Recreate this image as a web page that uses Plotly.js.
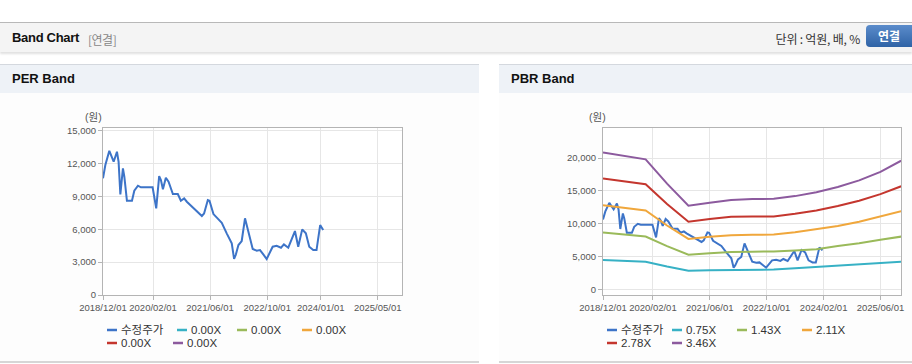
<!DOCTYPE html>
<html>
<head>
<meta charset="utf-8">
<script src="https://cdn.plot.ly/plotly-3.0.1.min.js"></script>
<style>
  html, body { margin: 0; padding: 0; background: #ffffff; width: 912px; height: 364px; overflow: hidden; font-family: "Liberation Sans", "Noto Sans CJK KR", sans-serif; }
  #topbar { position: absolute; left: 0; top: 22px; width: 912px; height: 29px; background: #f4f4f4; border-top: 1px solid #b8b8b8; box-shadow: 0 2px 2px rgba(0,0,0,0.12); }
  #topbar .title { position: absolute; left: 12px; top: 7px; font-size: 13px; font-weight: bold; color: #111; letter-spacing: -0.3px; }
  #topbar .sub { position: absolute; left: 88px; top: 8px; font-size: 12px; color: #888; font-family: "Noto Sans CJK KR", sans-serif; letter-spacing: -0.5px; }
  #topbar .unit { position: absolute; right: 52px; top: 7px; font-size: 12px; color: #333; font-family: "Noto Sans CJK KR", sans-serif; letter-spacing: -0.2px; }
  #topbar .btn { position: absolute; left: 866px; top: 2px; width: 52px; height: 22px; border-radius: 4px; background: linear-gradient(#5b8ccb, #2f63a6); color: #fff; font-size: 12px; font-weight: bold; line-height: 22px; text-indent: 12px; font-family: "Noto Sans CJK KR", sans-serif; }
  .phead { position: absolute; top: 64px; height: 28px; background: #eef2f7; border-top: 1px solid #d4d8de; }
  .phead span { position: absolute; left: 12px; top: 6px; font-size: 13px; font-weight: bold; color: #111; }
  .pbody { position: absolute; top: 93px; height: 268px; background: #fdfdfd; border-bottom: 2px solid #d6d6d6; }
  .chart { position: absolute; top: 93px; height: 269px; }
</style>
</head>
<body>
<div id="topbar">
  <div class="title">Band Chart</div>
  <div class="sub">[연결]</div>
  <div class="unit">단위 : 억원, 배, %</div>
  <div class="btn">연결</div>
</div>
<div class="phead" style="left:0;width:479px;"><span>PER Band</span></div>
<div class="phead" style="left:499px;width:413px;"><span>PBR Band</span></div>
<div class="pbody" style="left:0;width:479px;"></div>
<div class="pbody" style="left:499px;width:413px;"></div>
<div id="per" class="chart" style="left:0;width:479px;"></div>
<div id="pbr" class="chart" style="left:499px;width:413px;"></div>
<script>
// ---- Data ----
const priceDates = ['2018-12-01','2018-12-21','2019-01-24','2019-03-02','2019-03-30','2019-04-13','2019-04-28','2019-05-20','2019-06-01','2019-06-23','2019-08-05','2019-08-25','2019-09-25','2019-10-20','2020-01-28','2020-02-14','2020-02-28','2020-03-24','2020-04-08','2020-04-25','2020-05-20','2020-06-12','2020-07-19','2020-08-30','2020-09-25','2020-10-23','2020-11-15','2021-03-23','2021-04-11','2021-05-13','2021-05-27','2021-06-30','2021-09-09','2021-10-21','2021-12-03','2021-12-23','2022-01-06','2022-01-29','2022-02-26','2022-03-26','2022-04-24','2022-05-31','2022-07-04','2022-08-01','2022-08-29','2022-09-27','2022-11-17','2022-12-21','2023-01-27','2023-02-21','2023-03-30','2023-04-28','2023-05-26','2023-06-23','2023-07-27','2023-08-27','2023-09-25','2023-10-29','2023-11-26','2023-12-27','2024-01-22'];
const priceValues = [10650,11870,13170,12170,13080,12170,9190,11560,10800,8610,8610,9520,9980,9830,9830,8820,7910,10860,10500,9650,10710,10340,9220,9220,8610,8820,8520,7210,7450,8670,8610,7390,6600,5630,4720,3290,3650,4560,4930,7000,5780,4200,4050,4100,3710,3290,4410,4500,4320,4620,4320,5020,5840,4410,5990,5630,4410,4100,4100,6390,5930];

const perBandNames = ['0.00X','0.00X','0.00X','0.00X','0.00X'];
const perBandDates = [];
const perBandValues = [[],[],[],[],[]];

const pbrBandNames = ['0.75X','1.43X','2.11X','2.78X','3.46X'];
const bandDates = ['2018-12-01','2019-12-01','2020-06-01','2020-12-01','2021-06-01','2021-12-01','2022-06-01','2022-12-01','2023-06-01','2023-12-01','2024-06-01','2024-12-01','2025-06-01','2025-11-25'];
const band075 = [4470,4200,3480,2840,2900,2950,2960,3000,3200,3400,3700,3860,4060,4210];
const band143 = [8640,8030,6580,5280,5500,5700,5740,5760,5900,6100,6600,7000,7550,8030];
const band211 = [12820,12000,9720,7680,8000,8250,8300,8350,8700,9150,9650,10300,11100,11900];
const band278 = [16900,16000,13000,10300,10700,11050,11080,11100,11500,12000,12700,13500,14500,15700];
const band346 = [20850,19800,16100,12750,13200,13600,13750,13800,14200,14800,15600,16600,17900,19600];
const pbrBandValues = [band075, band143, band211, band278, band346];

const perTickVals = ['2018-12-01','2020-02-01','2021-06-01','2022-10-01','2024-01-01','2025-05-01'];
const perTickText = ['2018/12/01','2020/02/01','2021/06/01','2022/10/01','2024/01/01','2025/05/01'];
const pbrTickVals = ['2018-12-01','2020-02-01','2021-06-01','2022-10-01','2024-02-01','2025-06-01'];
const pbrTickText = ['2018/12/01','2020/02/01','2021/06/01','2022/10/01','2024/02/01','2025/06/01'];
const xRange = ['2018-12-01','2025-11-24'];

// ---- Styles ----
const priceColor = '#3d74c8';
const bandColors = ['#37b1c5','#9aba5a','#f0a73c','#c4362e','#8c5a9e'];
const FONT = '"Liberation Sans", "Noto Sans CJK KR", sans-serif';

// legend slots in pixels (relative to each chart div): [left x, center y]
const perLegendSlots = [[107,237],[177,237],[237,237],[302,237],[107,250],[173,250]];
const pbrLegendSlots = [[108,237],[173,237],[238,237],[303,237],[108,250],[173,250]];

function buildLegend(layout, names, colors, slots, W, H) {
  const m = layout.margin;
  const pw = W - m.l - m.r, ph = H - m.t - m.b;
  const px = X => (X - m.l) / pw;
  const py = Y => (H - m.b - Y) / ph;
  names.forEach((n, i) => {
    const [sx, sy] = slots[i];
    layout.shapes.push({type: 'line', xref: 'paper', yref: 'paper',
      x0: px(sx), x1: px(sx + 10), y0: py(sy), y1: py(sy),
      line: {color: colors[i], width: 2.5}});
    layout.annotations.push({text: n, xref: 'paper', yref: 'paper', x: px(sx + 12), y: py(sy),
      xanchor: 'left', yanchor: 'middle', showarrow: false,
      font: {family: FONT, size: 11.5, color: '#333'}});
  });
}

function makeLayout(tv, tt, yr, ticks, margin, W, H, unitX) {
  return {
    width: W, height: H,
    margin: margin,
    paper_bgcolor: 'rgba(0,0,0,0)',
    plot_bgcolor: '#ffffff',
    showlegend: false,
    font: {family: FONT, size: 10, color: '#555'},
    xaxis: {
      type: 'date', range: xRange, tickvals: tv, ticktext: tt,
      showgrid: true, gridcolor: '#e6e6e6', gridwidth: 1,
      showline: true, linecolor: '#b4b4b4', linewidth: 1, mirror: true,
      ticks: 'outside', ticklen: 4, tickcolor: '#b4b4b4',
      tickfont: {family: FONT, size: 9.5, color: '#555'}, zeroline: false, fixedrange: true
    },
    yaxis: {
      range: yr, tickvals: ticks, tickformat: ',d',
      showgrid: true, gridcolor: '#e6e6e6', gridwidth: 1,
      showline: true, linecolor: '#b4b4b4', linewidth: 1, mirror: true,
      ticks: 'outside', ticklen: 4, tickcolor: '#b4b4b4',
      tickfont: {family: FONT, size: 9.5, color: '#555'}, zeroline: false, fixedrange: true
    },
    shapes: [],
    annotations: [{
      text: '(원)', xref: 'paper', yref: 'paper', x: unitX, y: 1.066, xanchor: 'center', yanchor: 'middle',
      showarrow: false, font: {family: FONT, size: 10.5, color: '#555'}
    }]
  };
}

const allColors = [priceColor].concat(bandColors);

// PER chart
const perTraces = [{
  x: priceDates, y: priceValues, type: 'scatter', mode: 'lines', name: '수정주가',
  line: {color: priceColor, width: 2}
}];
perBandNames.forEach((n, i) => {
  perTraces.push({x: perBandDates, y: perBandValues[i], type: 'scatter', mode: 'lines', name: n,
    line: {color: bandColors[i], width: 2}});
});
const perLayout = makeLayout(perTickVals, perTickText, [0, 15250], [0,3000,6000,9000,12000,15000],
  {l: 103, r: 77, t: 35, b: 67}, 479, 269, -0.033);
buildLegend(perLayout, ['수정주가'].concat(perBandNames), allColors, perLegendSlots, 479, 269);
Plotly.newPlot('per', perTraces, perLayout, {staticPlot: true, displayModeBar: false});

// PBR chart
const pbrTraces = [{
  x: priceDates, y: priceValues, type: 'scatter', mode: 'lines', name: '수정주가',
  line: {color: priceColor, width: 2}
}];
pbrBandNames.forEach((n, i) => {
  pbrTraces.push({x: bandDates, y: pbrBandValues[i], type: 'scatter', mode: 'lines', name: n,
    line: {color: bandColors[i], width: 2}});
});
const pbrLayout = makeLayout(pbrTickVals, pbrTickText, [-870, 24580], [0,5000,10000,15000,20000],
  {l: 104, r: 11, t: 35, b: 67}, 413, 269, -0.018);
buildLegend(pbrLayout, ['수정주가'].concat(pbrBandNames), allColors, pbrLegendSlots, 413, 269);
Plotly.newPlot('pbr', pbrTraces, pbrLayout, {staticPlot: true, displayModeBar: false});
</script>
</body>
</html>
